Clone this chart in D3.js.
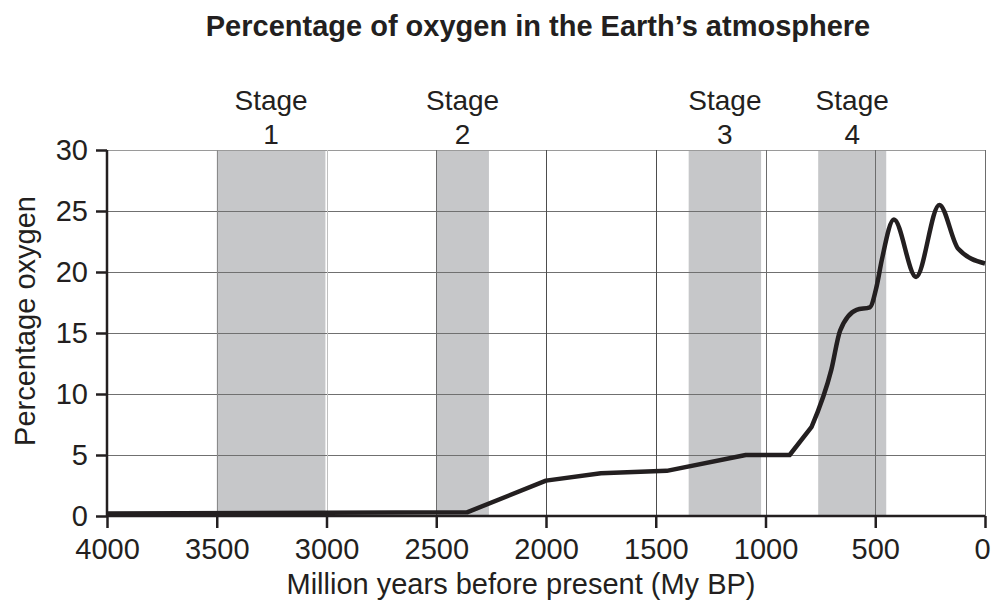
<!DOCTYPE html>
<html>
<head>
<meta charset="utf-8">
<script src="https://cdn.jsdelivr.net/npm/d3@7/dist/d3.min.js"></script>
<style>
  html, body { margin: 0; padding: 0; background: #fff; }
  svg { display: block; }
  text { font-family: "Liberation Sans", Arial, sans-serif; fill: #231f20; }
</style>
</head>
<body>
<svg id="chart" width="992" height="601"></svg>
<script>
// ---- data ----
const years  = [4000, 2360, 2000, 1750, 1450, 1090, 890, 790, 700, 660, 585, 525, 494, 470, 415, 314, 208, 122, 0];
const oxygen = [0.2, 0.3, 2.9, 3.5, 3.7, 5.0, 5.0, 7.3, 12.0, 15.2, 16.9, 17.1, 18.8, 21.0, 24.3, 19.6, 25.5, 21.9, 20.7];
const stageNames  = ["Stage\n1", "Stage\n2", "Stage\n3", "Stage\n4"];
const stageStart  = [3500, 2500, 1350, 760];
const stageEnd    = [3005, 2260, 1020, 450];
const xTicks = [4000, 3500, 3000, 2500, 2000, 1500, 1000, 500, 0];
const yTicks = [0, 5, 10, 15, 20, 25, 30];

const svg = d3.select("#chart");
const mLeft = 107, mRight = 985, mTop = 150, mBottom = 516;
const FONT = '"Liberation Sans", Arial, sans-serif';

const x = d3.scaleLinear().domain([4000, 0]).range([mLeft, mRight]);
const y = d3.scaleLinear().domain([0, 30]).range([mBottom, mTop]);

// stage bands
const stages = stageNames.map((n, i) => ({name: n, s: stageStart[i], e: stageEnd[i]}));
svg.append("g").selectAll("rect").data(stages).join("rect")
  .attr("x", d => x(d.s)).attr("y", mTop)
  .attr("width", d => x(d.e) - x(d.s)).attr("height", mBottom - mTop)
  .attr("fill", "#c6c7c9");

// horizontal grid
svg.append("g").selectAll("line").data(yTicks.filter(v => v > 0)).join("line")
  .attr("x1", mLeft).attr("x2", mRight)
  .attr("y1", d => Math.round(y(d)) + 0.5).attr("y2", d => Math.round(y(d)) + 0.5)
  .attr("stroke", d => d === 30 ? "#9a9a9a" : "#707070").attr("stroke-width", 1);

// vertical grid
const vColor = {3500: "#8a8a8a", 3000: "#c0c0c0", 2500: "#6d6d6d", 2000: "#4d4d4d", 1500: "#4d4d4d", 1000: "#6d6d6d", 500: "#6d6d6d", 0: "#6d6d6d"};
svg.append("g").selectAll("line").data(xTicks.filter(v => v < 4000)).join("line")
  .attr("x1", d => Math.round(x(d)) + 0.5).attr("x2", d => Math.round(x(d)) + 0.5)
  .attr("y1", mTop).attr("y2", mBottom)
  .attr("stroke", d => vColor[d]).attr("stroke-width", 1);

// axes
const xAxis = svg.append("g").attr("transform", `translate(0,${mBottom})`)
  .call(d3.axisBottom(x).tickValues(xTicks).tickSize(12).tickPadding(10).tickFormat(d3.format("d")));
xAxis.select(".domain").attr("stroke", "#231f20").attr("stroke-width", 2.5).attr("d", `M${mLeft},0H${mRight}`);
xAxis.selectAll(".tick line").attr("stroke", "#231f20").attr("stroke-width", 2.5);
xAxis.selectAll(".tick text").attr("font-size", 29).attr("fill", "#231f20").attr("font-family", FONT)
  .attr("dx", d => d === 0 ? -3 : 0);

const yAxis = svg.append("g").attr("transform", `translate(${mLeft},0)`)
  .call(d3.axisLeft(y).tickValues(yTicks).tickSize(11).tickPadding(8));
yAxis.select(".domain").attr("stroke", "#231f20").attr("stroke-width", 2.5).attr("d", `M0,${mBottom}V${mTop}`);
yAxis.selectAll(".tick line").attr("stroke", "#231f20").attr("stroke-width", 2.5);
yAxis.selectAll(".tick text").attr("font-size", 29).attr("fill", "#231f20").attr("font-family", FONT);

// oxygen curve: straight segments up to 790 My BP, smooth afterwards
const pts = years.map((yr, i) => [yr, oxygen[i]]);
const split = years.indexOf(790);
const linePart = d3.line().x(d => x(d[0])).y(d => y(d[1]));
const smoothPart = d3.line().x(d => x(d[0])).y(d => y(d[1])).curve(d3.curveMonotoneX);
const pathD = linePart(pts.slice(0, split + 1)) + smoothPart(pts.slice(split)).replace(/^M[^A-Za-z]*/, "");
svg.append("path")
  .attr("d", pathD).attr("fill", "none")
  .attr("stroke", "#231f20").attr("stroke-width", 4.5)
  .attr("stroke-linejoin", "round").attr("stroke-linecap", "butt");

// stage labels
const lab = svg.append("g").selectAll("text").data(stages).join("text")
  .attr("text-anchor", "middle").attr("font-size", 28)
  .attr("x", d => x((d.s + d.e) / 2));
lab.selectAll("tspan").data(d => d.name.split("\n")).join("tspan")
  .attr("x", function() { return d3.select(this.parentNode).attr("x"); })
  .attr("y", (d, i) => i === 0 ? 110 : 144)
  .text(d => d);

// titles
svg.append("text").attr("x", 538).attr("y", 36).attr("text-anchor", "middle")
  .attr("font-size", 29).attr("font-weight", "bold")
  .text("Percentage of oxygen in the Earth\u2019s atmosphere");

svg.append("text").attr("x", 521).attr("y", 594).attr("text-anchor", "middle")
  .attr("font-size", 29).text("Million years before present (My BP)");

svg.append("text").attr("transform", "translate(35,321) rotate(-90)")
  .attr("text-anchor", "middle").attr("font-size", 29).text("Percentage oxygen");
</script>
</body>
</html>
